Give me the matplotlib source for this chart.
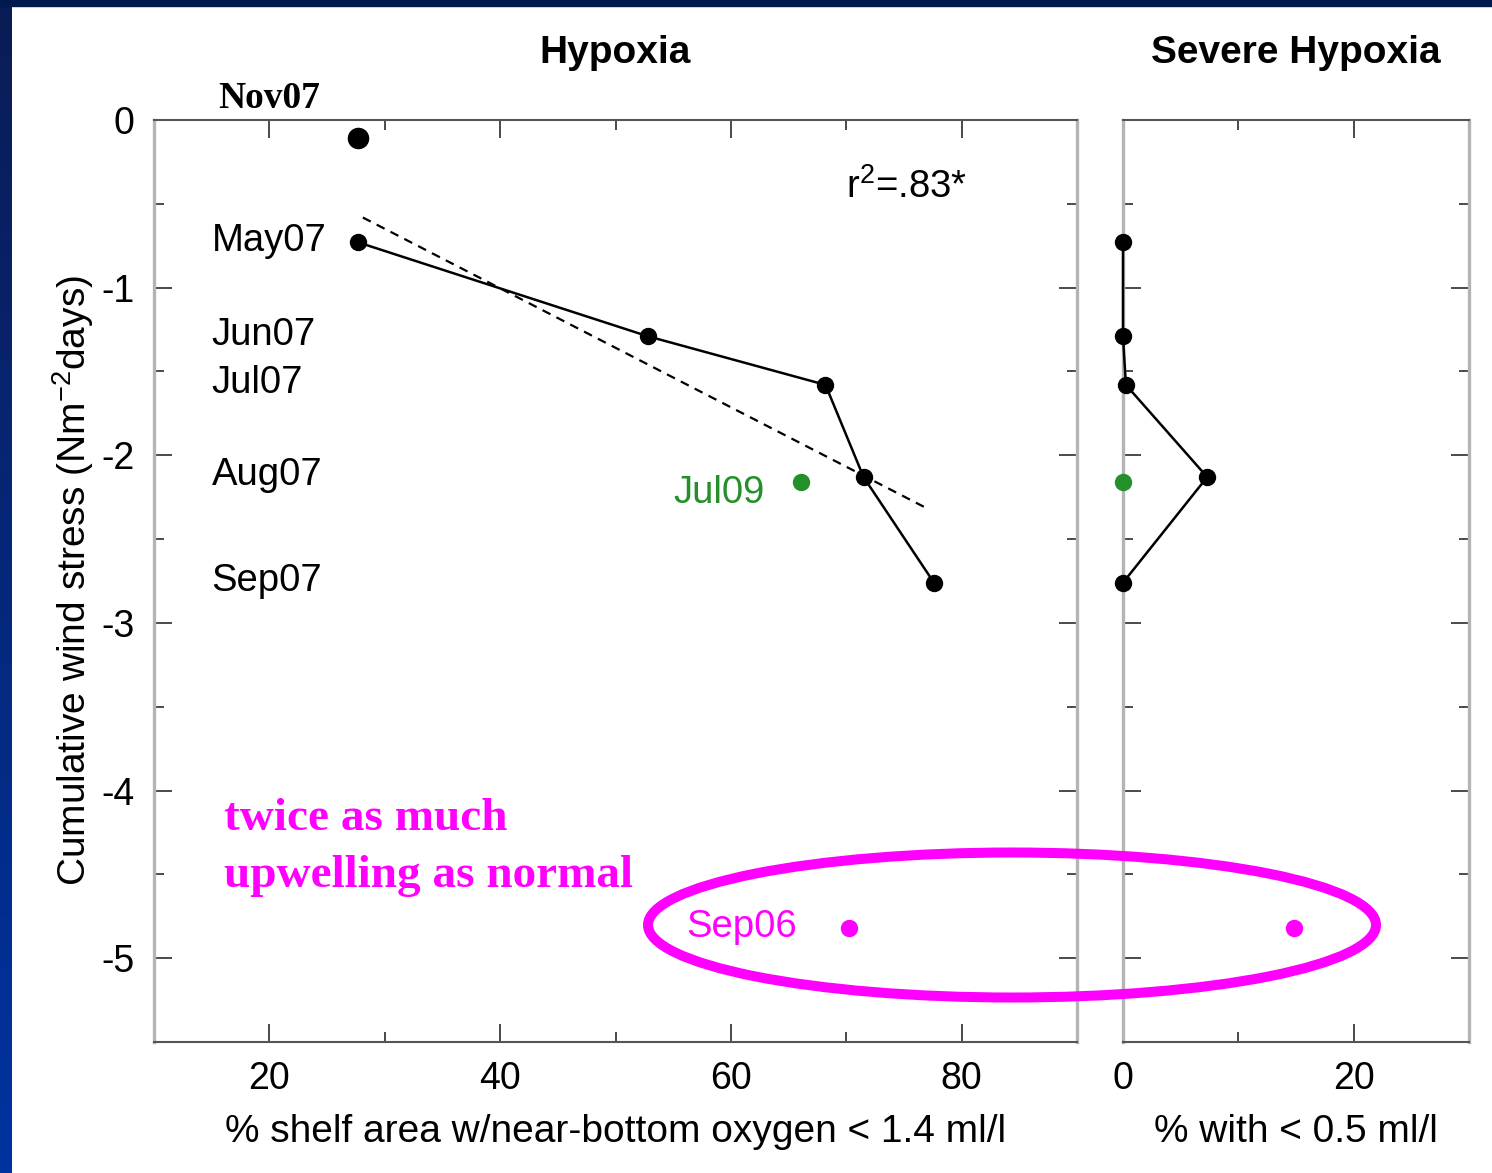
import numpy as np
import matplotlib
matplotlib.use('Agg')
import matplotlib.pyplot as plt
from matplotlib.patches import Ellipse, Rectangle
from matplotlib.ticker import MultipleLocator

plt.rcParams['font.family'] = ['Liberation Sans', 'DejaVu Sans']
plt.rcParams['mathtext.fontset'] = 'custom'
plt.rcParams['mathtext.rm'] = 'Liberation Sans'
plt.rcParams['mathtext.it'] = 'Liberation Sans'
plt.rcParams['axes.unicode_minus'] = False

# data
months = ['May07', 'Jun07', 'Jul07', 'Aug07', 'Sep07']
wind = [-0.73, -1.29, -1.58, -2.13, -2.76]
hypoxia = [27.7, 52.8, 68.2, 71.5, 77.6]
severe = [0.0, 0.0, 0.25, 7.3, 0.0]

nov07_wind = -0.11
nov07_hyp = 27.7

jul09_wind = -2.16
jul09_hyp = 66.1
jul09_sev = 0.0

sep06_wind = -4.82
sep06_hyp = 70.2
sep06_sev = 14.8

r2_text = 'r$^2$=.83*'

W, H = 1492, 1173
fig = plt.figure(figsize=(W / 100, H / 100), dpi=100)
fig.patch.set_facecolor('white')

# slide frame: dark top bar and blue gradient on the left
fig.patches.append(Rectangle((0, 1 - 6 / H), 1, 6 / H, transform=fig.transFigure,
                             color='#001a4d', zorder=0))
gax = fig.add_axes([0, 0, 12 / W, 1])
grad = np.linspace(0, 1, 256)[:, None]
cmap = matplotlib.colors.LinearSegmentedColormap.from_list('frame', ['#0a1c55', '#0033a0'])
gax.imshow(grad, aspect='auto', cmap=cmap, extent=[0, 1, 0, 1], origin='upper')
gax.axis('off')

bot, top = 1042, 120
ax1 = fig.add_axes([154 / W, 1 - bot / H, (1077 - 154) / W, (bot - top) / H])
ax2 = fig.add_axes([1123 / W, 1 - bot / H, (1469 - 1123) / W, (bot - top) / H])

FS = 27.5
dark = '#4a4a4a'
for ax in (ax1, ax2):
    ax.set_ylim(-5.5, 0)
    ax.yaxis.set_major_locator(MultipleLocator(1))
    ax.yaxis.set_minor_locator(MultipleLocator(0.5))
    ax.xaxis.set_major_locator(MultipleLocator(20))
    ax.xaxis.set_minor_locator(MultipleLocator(10))
    ax.tick_params(which='both', direction='in', top=True, right=True,
                   color=dark, width=1.4, labelsize=27, pad=14)
    ax.tick_params(which='major', length=13)
    ax.tick_params(which='minor', length=7)
    for s in ('left', 'right'):
        ax.spines[s].set_color('#b4b4b4')
        ax.spines[s].set_linewidth(2.4)
    for s in ('top', 'bottom'):
        ax.spines[s].set_color('#555555')
        ax.spines[s].set_linewidth(1.5)

ax1.set_xlim(10, 90)
ax2.set_xlim(0, 30)
ax2.set_yticklabels([])
ax2.set_xticks([0, 20])

# left panel
ax1.plot(hypoxia, wind, color='black', lw=1.8, marker='o', ms=11.5, zorder=3)
ax1.plot(nov07_hyp, nov07_wind, 'o', color='black', ms=14.5, clip_on=False, zorder=3)
slope, icpt = np.polyfit(hypoxia, wind, 1)
fx = np.array([min(hypoxia) + 0.4, max(hypoxia) - 0.4])
ax1.plot(fx, slope * fx + icpt, color='black', lw=1.6, ls=(0, (4, 3)), zorder=2)
ax1.plot(jul09_hyp, jul09_wind, 'o', color='#23902a', ms=11.5, zorder=3)
ax1.plot(sep06_hyp, sep06_wind, 'o', color='#ff00ff', ms=11.5, zorder=3)

for m, y in zip(months, wind):
    ax1.text(15.0, y + 0.01, m, fontsize=FS, ha='left', va='center')
ax1.text(15.6, 0.13, 'Nov07', fontsize=27, fontweight='bold', family='Liberation Serif',
         ha='left', va='center', clip_on=False)
ax1.annotate('Jul09', (jul09_hyp, jul09_wind), xytext=(-26, -8), textcoords='offset points',
             fontsize=FS, color='#23902a', ha='right', va='center')
ax1.annotate('Sep06', (sep06_hyp, sep06_wind), xytext=(-37, 1), textcoords='offset points',
             fontsize=FS, color='#ff00ff', ha='right', va='center')
ax1.text(70.0, -0.40, r2_text, fontsize=FS, ha='left', va='center')

ax1.set_title('Hypoxia', fontsize=28, fontweight='bold', pad=41)
ax1.set_xlabel('% shelf area w/near-bottom oxygen < 1.4 ml/l', fontsize=28, labelpad=12)
ax1.set_ylabel('Cumulative wind stress (Nm$^{-2}$days)', fontsize=28, labelpad=4)

# right panel
ax2.plot(severe, wind, color='black', lw=1.8, marker='o', ms=11.5, zorder=3, clip_on=False)
ax2.plot(jul09_sev, jul09_wind, 'o', color='#23902a', ms=11.5, zorder=3, clip_on=False)
ax2.plot(sep06_sev, sep06_wind, 'o', color='#ff00ff', ms=11.5, zorder=3)
ax2.set_title('Severe Hypoxia', fontsize=28, fontweight='bold', pad=41)
ax2.set_xlabel('% with < 0.5 ml/l', fontsize=28, labelpad=12)

# annotation
for line, yb in zip(['twice as much', 'upwelling as normal'], [830, 887]):
    fig.text(224 / W, 1 - yb / H, line, fontsize=34, family='Liberation Serif',
             fontweight='bold', color='#ff00ff', ha='left', va='baseline')
fig.patches.append(Ellipse((1012 / W, 1 - 925 / H), 728 / W, 145 / H, transform=fig.transFigure,
                           fill=False, edgecolor='#ff00ff', lw=7.2, zorder=5))

fig.savefig('out.png', dpi=100)
